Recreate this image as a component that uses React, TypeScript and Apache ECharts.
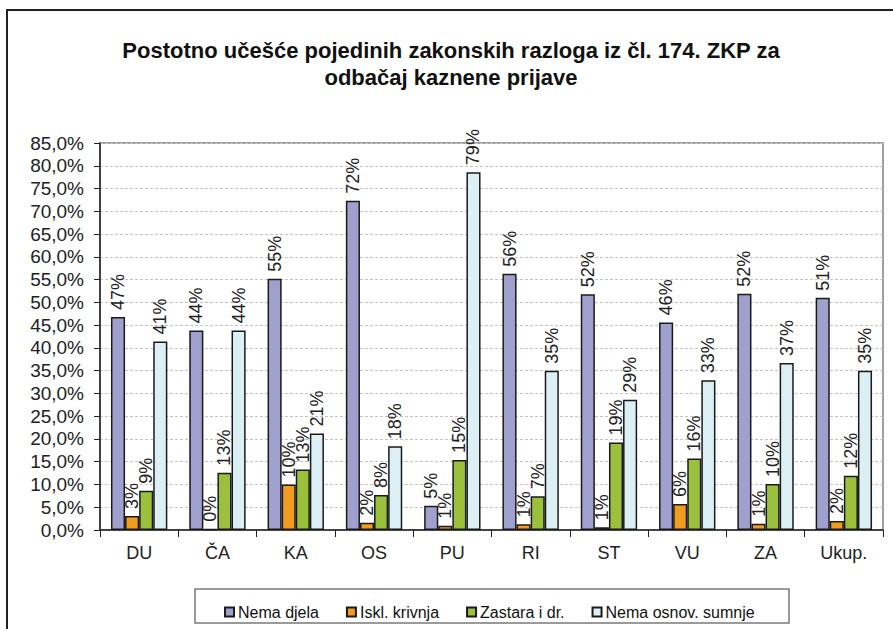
import React, { useEffect, useRef } from "react";
import * as echarts from "echarts";

const categories = ["DU", "ČA", "KA", "OS", "PU", "RI", "ST", "VU", "ZA", "Ukup."];
const seriesNames = ["Nema djela", "Iskl. krivnja", "Zastara i dr.", "Nema osnov. sumnje"];
const nemaDjela = [46.8, 43.8, 55.2, 72.3, 5.3, 56.3, 51.8, 45.6, 51.9, 51.0];
const isklKrivnja = [3.1, 0.2, 10.0, 1.6, 0.95, 1.25, 0.6, 5.7, 1.4, 2.0];
const zastara = [8.6, 12.6, 13.3, 7.7, 15.4, 7.4, 19.2, 15.7, 10.1, 11.9];
const nemaOsnov = [41.4, 43.8, 21.2, 18.4, 78.6, 35.0, 28.6, 32.9, 36.7, 35.0];
const colors = ["#A0A0CE", "#F29C1F", "#9BC03B", "#DCEFF5"];
const titleLines = ["Postotno učešće pojedinih zakonskih razloga iz čl. 174. ZKP za", "odbačaj kaznene prijave"];

const FONT = "'Liberation Sans', Arial, sans-serif";

export default function App() {
  const ref = useRef<HTMLDivElement>(null);
  useEffect(() => {
    if (!ref.current) return;
    const chart = echarts.init(ref.current, null, { renderer: "svg" });
    const dataSets = [nemaDjela, isklKrivnja, zastara, nemaOsnov];
    chart.setOption({
      animation: false,
      backgroundColor: "#ffffff",
      title: {
        text: titleLines.join("\n"),
        left: 446,
        top: 32,
        textAlign: "center",
        textStyle: { fontFamily: FONT, fontWeight: "bold", fontSize: 22, lineHeight: 27, color: "#111" },
      },
      graphic: [
        {
          type: "rect",
          shape: { x: 7, y: 10, width: 920, height: 700 },
          style: { fill: "none", stroke: "#222", lineWidth: 2 },
          silent: true,
        },
        {
          type: "rect",
          shape: { x: 195, y: 589, width: 594, height: 34 },
          style: { fill: "none", stroke: "#7a7a7a", lineWidth: 1.5 },
          silent: true,
        },
      ],
      legend: {
        data: seriesNames,
        left: 219,
        top: 599,
        icon: "rect",
        itemWidth: 9,
        itemHeight: 9,
        itemGap: 27,
        textStyle: { fontFamily: FONT, fontSize: 16, color: "#111", padding: [0, 0, 0, -1] },
      },
      grid: {
        left: 100,
        right: 10,
        top: 143,
        bottom: 99,
        show: true,
        borderColor: "#808080",
        borderWidth: 1.5,
      },
      xAxis: {
        type: "category",
        data: categories,
        boundaryGap: true,
        axisLine: { lineStyle: { color: "#222", width: 1.5 } },
        axisTick: { show: true, length: 7, inside: false, lineStyle: { color: "#222", width: 1 } },
        axisLabel: { fontFamily: FONT, fontSize: 18, color: "#222", margin: 14 },
      },
      yAxis: {
        type: "value",
        min: 0,
        max: 85,
        interval: 5,
        axisLine: { show: true, lineStyle: { color: "#222", width: 1.5 } },
        axisTick: { show: true, length: 6, lineStyle: { color: "#222" } },
        axisLabel: {
          fontFamily: FONT,
          fontSize: 19,
          color: "#222",
          margin: 16,
          formatter: (v: number) => v.toFixed(1).replace(".", ",") + "%",
        },
        splitLine: { show: true, lineStyle: { color: "#c4c4c4", type: [3, 2], width: 1 } },
      },
      series: seriesNames.map((name, i) => ({
        name,
        type: "bar",
        data: dataSets[i],
        barGap: "0%",
        barCategoryGap: "28%",
        itemStyle: { color: colors[i], borderColor: "#1a1a1a", borderWidth: 1.5 },
        label: {
          show: true,
          position: "top",
          rotate: 90,
          align: "left",
          verticalAlign: "middle",
          distance: 7,
          fontFamily: FONT,
          fontSize: 18,
          color: "#222",
          formatter: (p: any) => Math.round(p.value) + "%",
        },
      })),
    });
    return () => chart.dispose();
  }, []);
  return <div ref={ref} style={{ position: "fixed", left: 0, top: 0, width: 893, height: 629 }} />;
}
